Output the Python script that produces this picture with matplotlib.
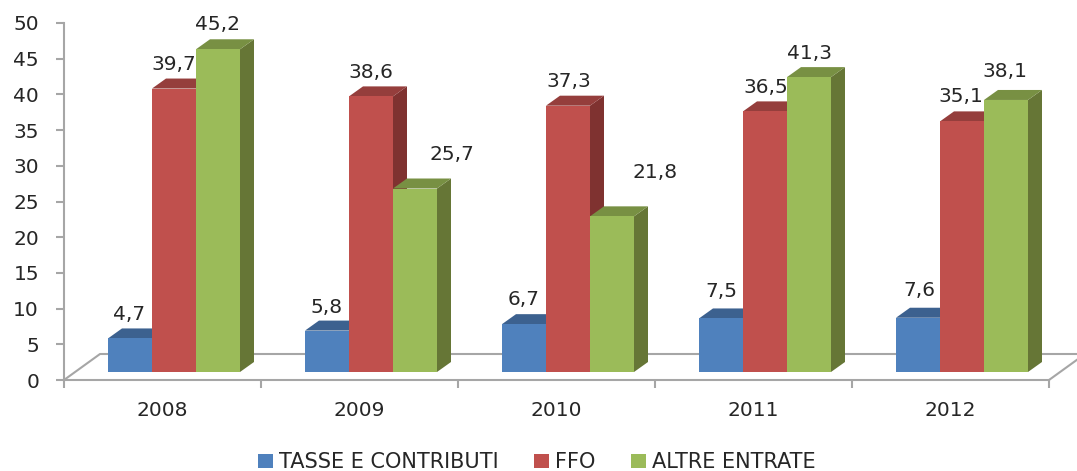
import matplotlib
matplotlib.use("Agg")
import matplotlib.pyplot as plt
from matplotlib.patches import Polygon, Patch

plt.rcParams['font.family'] = ['DejaVu Sans']

years = ['2008', '2009', '2010', '2011', '2012']
series_names = ['TASSE E CONTRIBUTI', 'FFO', 'ALTRE ENTRATE']
tasse = [4.7, 5.8, 6.7, 7.5, 7.6]
ffo = [39.7, 38.6, 37.3, 36.5, 35.1]
altre = [45.2, 25.7, 21.8, 41.3, 38.1]
value_labels = [['4,7', '5,8', '6,7', '7,5', '7,6'],
                ['39,7', '38,6', '37,3', '36,5', '35,1'],
                ['45,2', '25,7', '21,8', '41,3', '38,1']]
y_ticks = list(range(0, 55, 5))

# Style / layout
front = ['#4F81BD', '#C0504D', '#9BBB59']
top = ['#3C618F', '#953E3C', '#789043']
side = ['#345378', '#7F3230', '#667636']
axis_c = '#A6A6A6'
text_c = '#262626'
W, H = 1077, 471
# label offsets in pixels relative to the centre of the bar top
offsets = [[(-1, 24), (0, 23), (0, 25), (0, 27), (1, 27)],
           [(0, 24), (0, 24), (1, 24), (1, 24), (-1, 25)],
           [(0, 25), (37, 34), (43, 44), (1, 24), (-1, 28)]]

fig = plt.figure(figsize=(W / 100, H / 100), dpi=100)
ax = fig.add_axes([64 / W, 1 - 380 / H, (1049 - 64) / W, (380 - 23) / H])
ax.set_xlim(0, 5)
ax.set_ylim(0, 50)

px_x = 5 / (1049 - 64)
px_y = 50 / (380 - 23)
bar_w = 44 * px_x
gap = 44 * px_x
dx, dy = 14 * px_x, 10 * px_y
base = 8 * px_y
floor_dx, floor_dy = 36 * px_x, 26 * px_y

# floor
ax.plot([0, floor_dx, 5 + floor_dx], [0, floor_dy, floor_dy], color=axis_c,
        lw=1.5, clip_on=False, zorder=1)
ax.plot([5, 5 + floor_dx], [0, floor_dy], color=axis_c, lw=1.5, clip_on=False, zorder=1)

z = 2
for g in range(len(years)):
    for s, vals in enumerate([tasse, ffo, altre]):
        x0 = g + gap + s * bar_w
        x1 = x0 + bar_w
        y1 = base + vals[g]
        ax.add_patch(Polygon([(x1, base), (x1 + dx, base + dy), (x1 + dx, y1 + dy), (x1, y1)],
                             closed=True, fc=side[s], ec='none', zorder=z))
        ax.add_patch(Polygon([(x0, y1), (x0 + dx, y1 + dy), (x1 + dx, y1 + dy), (x1, y1)],
                             closed=True, fc=top[s], ec='none', zorder=z))
        ax.bar(x0, vals[g], width=bar_w, bottom=base, align='edge', color=front[s],
               zorder=z + 0.5)
        z += 1
        ax.annotate(value_labels[s][g], xy=(x0 + bar_w / 2, y1),
                    xytext=offsets[s][g], textcoords='offset pixels',
                    ha='center', va='center', fontsize=14.5, color=text_c,
                    annotation_clip=False, zorder=100)

for name in ['top', 'right']:
    ax.spines[name].set_visible(False)
for name in ['left', 'bottom']:
    ax.spines[name].set_color(axis_c)
    ax.spines[name].set_linewidth(1.5)
    ax.spines[name].set_zorder(1)

ax.set_yticks(y_ticks)
ax.tick_params(axis='y', length=6, width=1.5, color=axis_c, labelcolor=text_c,
               labelsize=14.5, pad=12)
ax.set_xticks(range(6))
ax.set_xticklabels([])
ax.set_xticks([i + 0.5 for i in range(5)], minor=True)
ax.set_xticklabels(years, minor=True)
ax.tick_params(axis='x', which='major', length=6, width=1.5, color=axis_c)
ax.tick_params(axis='x', which='minor', length=0, labelcolor=text_c, labelsize=14.5, pad=15)

handles = [Patch(facecolor=c, edgecolor='none', label=n) for c, n in zip(front, series_names)]
fig.legend(handles=handles, loc='lower left', bbox_to_anchor=(254 / W, -0.012), ncol=3,
           frameon=False, fontsize=15.0, labelcolor=text_c, handlelength=0.7,
           handleheight=0.63, handletextpad=0.31, columnspacing=1.7, borderpad=0.2, borderaxespad=0)

fig.savefig('out.png', dpi=100)
